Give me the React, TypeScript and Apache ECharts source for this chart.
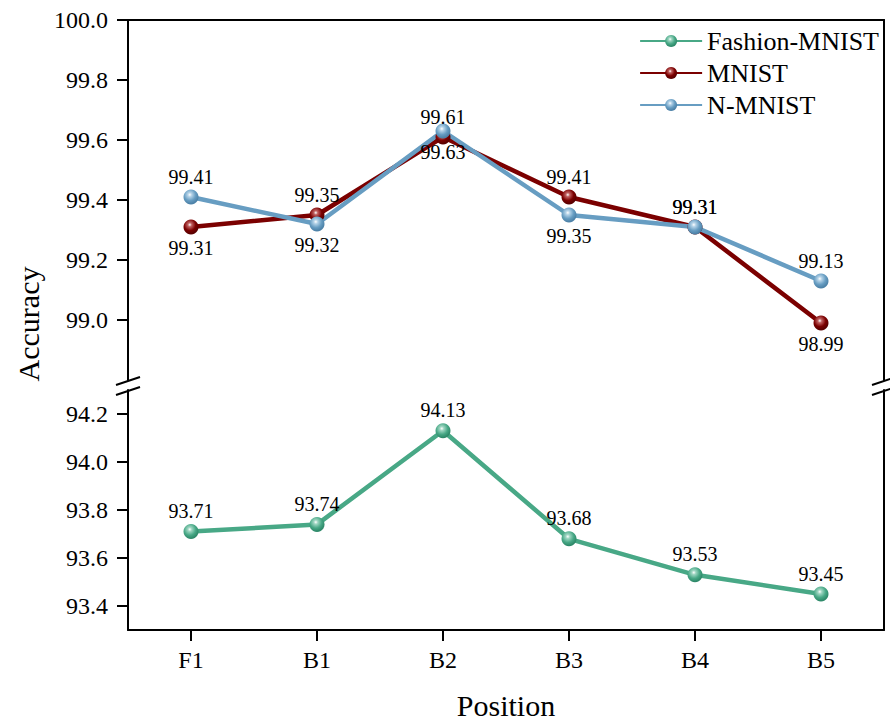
import React, { useEffect, useRef } from "react";
import * as echarts from "echarts";

const categories = ["F1", "B1", "B2", "B3", "B4", "B5"];
const fashionValues = [93.71, 93.74, 94.13, 93.68, 93.53, 93.45];
const mnistValues = [99.31, 99.35, 99.61, 99.41, 99.31, 98.99];
const nmnistValues = [99.41, 99.32, 99.63, 99.35, 99.31, 99.13];
const fashionLabelPos = ["top", "top", "top", "top", "top", "top"];
const mnistLabelPos = ["bottom", "top", "top", "top", "top", "bottom"];
const nmnistLabelPos = ["top", "bottom", "bottom", "bottom", "top", "top"];
const topTicks = [99.0, 99.2, 99.4, 99.6, 99.8, 100.0];
const bottomTicks = [93.4, 93.6, 93.8, 94.0, 94.2];
const topRange = [98.8, 100.0];
const bottomRange = [93.3, 94.3];

const FONT = "Liberation Serif";

function sphere(base: string, light: string, dark: string) {
  return new echarts.graphic.RadialGradient(0.42, 0.35, 0.6, [
    { offset: 0, color: "#ffffff" },
    { offset: 0.22, color: light },
    { offset: 0.65, color: base },
    { offset: 1, color: dark },
  ]);
}

export default function App() {
  const ref = useRef<HTMLDivElement>(null);
  useEffect(() => {
    document.body.style.margin = "0";
    if (!ref.current) return;
    const chart = echarts.init(ref.current, null, { renderer: "svg" });
    const axisLine = { show: true, lineStyle: { color: "#000", width: 2 } };
    const labelStyle = {
      show: true,
      fontFamily: FONT,
      fontSize: 20,
      color: "#000",
      distance: 3,
      formatter: (p: any) => p.value.toFixed(2),
    };
    const mkData = (vals: number[], pos: string[]) =>
      vals.map((v, i) => ({ value: v, label: { ...labelStyle, position: pos[i] } }));
    const yBase = (range: number[], ticks: number[], grid: number) => ({
      type: "value",
      gridIndex: grid,
      min: range[0],
      max: range[1],
      position: "left",
      axisLine,
      splitLine: { show: false },
      axisTick: {
        show: true,
        length: 11,
        lineStyle: { width: 2, color: "#000" },
        customValues: ticks,
      },
      axisLabel: {
        fontFamily: FONT,
        fontSize: 24,
        color: "#000",
        margin: 20,
        customValues: ticks,
        formatter: (v: number) => v.toFixed(1),
      },
    });
    const yRight = (range: number[], grid: number) => ({
      type: "value",
      gridIndex: grid,
      min: range[0],
      max: range[1],
      position: "right",
      axisLine,
      splitLine: { show: false },
      axisTick: { show: false },
      axisLabel: { show: false },
    });
    const green = "#48a886";
    const red = "#7b0000";
    const blue = "#679dc2";
    const slash = (x: number, y: number) => ({
      type: "line",
      shape: { x1: x - 12, y1: y + 4, x2: x + 12, y2: y - 4 },
      style: { stroke: "#000", lineWidth: 2 },
      z: 100,
    });
    chart.setOption({
      animation: false,
      grid: [
        { left: 128, top: 20, width: 756, height: 360 },
        { left: 128, top: 390, width: 756, height: 240 },
      ],
      xAxis: [
        {
          type: "category",
          gridIndex: 0,
          data: categories,
          position: "top",
          axisLine,
          axisTick: { show: false },
          axisLabel: { show: false },
        },
        {
          type: "category",
          gridIndex: 1,
          data: categories,
          position: "bottom",
          axisLine,
          axisTick: {
            show: true,
            alignWithLabel: true,
            length: 11,
            lineStyle: { width: 2, color: "#000" },
          },
          axisLabel: { fontFamily: FONT, fontSize: 24, color: "#000", margin: 18 },
          name: "Position",
          nameLocation: "middle",
          nameGap: 60,
          nameTextStyle: { fontFamily: FONT, fontSize: 30, color: "#000" },
        },
      ],
      yAxis: [
        yBase(topRange, topTicks, 0),
        yRight(topRange, 0),
        yBase(bottomRange, bottomTicks, 1),
        yRight(bottomRange, 1),
      ],
      legend: {
        orient: "vertical",
        right: 6,
        top: 23,
        itemWidth: 62,
        itemHeight: 15,
        itemGap: 6,
        textStyle: { fontFamily: FONT, fontSize: 26, color: "#000" },
        data: ["Fashion-MNIST", "MNIST", "N-MNIST"],
      },
      graphic: [
        {
          type: "text",
          x: 28,
          y: 324,
          rotation: Math.PI / 2,
          style: {
            text: "Accuracy",
            fontFamily: FONT,
            fontSize: 30,
            fill: "#000",
            textAlign: "center",
            textVerticalAlign: "middle",
          },
        },
        slash(128, 381),
        slash(128, 391),
        slash(884, 381),
        slash(884, 391),
      ],
      series: [
        {
          name: "Fashion-MNIST",
          type: "line",
          xAxisIndex: 1,
          yAxisIndex: 2,
          data: mkData(fashionValues, fashionLabelPos),
          symbol: "circle",
          symbolSize: 15,
          lineStyle: { color: green, width: 4.5 },
          itemStyle: { color: sphere(green, "#9fd6c2", "#2f8a6a") },
          label: labelStyle,
        },
        {
          name: "MNIST",
          type: "line",
          xAxisIndex: 0,
          yAxisIndex: 0,
          data: mkData(mnistValues, mnistLabelPos),
          symbol: "circle",
          symbolSize: 15,
          lineStyle: { color: red, width: 4.5 },
          itemStyle: { color: sphere(red, "#c06060", "#5a0000") },
          label: labelStyle,
        },
        {
          name: "N-MNIST",
          type: "line",
          xAxisIndex: 0,
          yAxisIndex: 0,
          data: mkData(nmnistValues, nmnistLabelPos),
          symbol: "circle",
          symbolSize: 15,
          lineStyle: { color: blue, width: 4.5 },
          itemStyle: { color: sphere(blue, "#b5d3e8", "#4d82a8") },
          label: labelStyle,
        },
      ],
    });
    return () => chart.dispose();
  }, []);
  return <div ref={ref} style={{ width: 890, height: 724 }} />;
}
